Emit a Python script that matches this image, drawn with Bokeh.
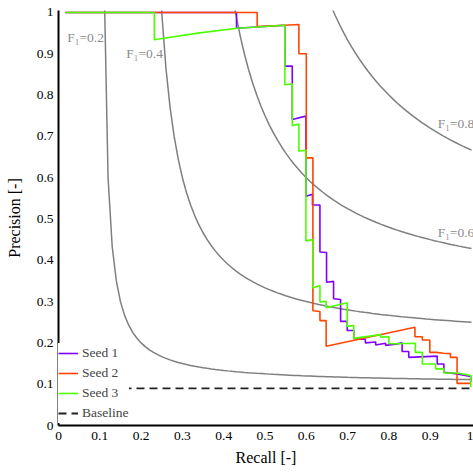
from bokeh.plotting import figure
from bokeh.models import Range1d, FixedTicker, Legend, LegendItem
from bokeh.embed import file_html
from bokeh.resources import INLINE
from bokeh.core.properties import value
import numpy as np

# Precision-recall curves for three training seeds
seed1_recall = [0.017, 0.431, 0.431, 0.548, 0.548, 0.566, 0.566, 0.599, 0.599, 0.615, 0.615,
                0.633, 0.633, 0.649, 0.649, 0.666, 0.666, 0.683, 0.683, 0.699, 0.699, 0.715,
                0.715, 0.731, 0.743, 0.743, 0.768, 0.768, 0.792, 0.792, 0.816, 0.832, 0.832,
                0.848, 0.848, 0.917, 0.917, 0.933, 0.933, 0.965, 0.998, 0.998]
seed1_precision = [1.0, 1.0, 0.962, 0.969, 0.870, 0.870, 0.741, 0.749, 0.555, 0.560, 0.534,
                   0.534, 0.420, 0.419, 0.347, 0.349, 0.307, 0.305, 0.252, 0.252, 0.230, 0.230,
                   0.211, 0.209, 0.209, 0.200, 0.202, 0.195, 0.199, 0.194, 0.197, 0.200, 0.179,
                   0.179, 0.165, 0.168, 0.149, 0.149, 0.129, 0.125, 0.119, 0.105]

seed2_recall = [0.017, 0.481, 0.481, 0.548, 0.582, 0.582, 0.600, 0.600, 0.616, 0.616, 0.633,
                0.633, 0.648, 0.648, 0.863, 0.863, 0.881, 0.881, 0.899, 0.899, 0.915, 0.932,
                0.949, 0.949, 0.965, 0.965, 0.998]
seed2_precision = [1.0, 1.0, 0.966, 0.969, 0.971, 0.900, 0.900, 0.648, 0.648, 0.278, 0.276,
                   0.254, 0.254, 0.192, 0.238, 0.215, 0.215, 0.207, 0.207, 0.177, 0.177, 0.175,
                   0.174, 0.165, 0.165, 0.102, 0.102]

seed3_recall = [0.017, 0.232, 0.232, 0.337, 0.433, 0.548, 0.548, 0.566, 0.566, 0.582, 0.582,
                0.599, 0.599, 0.616, 0.616, 0.633, 0.633, 0.648, 0.648, 0.699, 0.699, 0.715,
                0.715, 0.780, 0.780, 0.800, 0.800, 0.816, 0.864, 0.864, 0.881, 0.881, 0.913,
                0.913, 0.933, 0.933, 0.965, 0.998, 0.998]
seed3_precision = [1.0, 1.0, 0.934, 0.950, 0.962, 0.969, 0.825, 0.827, 0.726, 0.730, 0.664,
                   0.667, 0.447, 0.450, 0.333, 0.339, 0.299, 0.301, 0.285, 0.297, 0.240, 0.242,
                   0.211, 0.220, 0.214, 0.215, 0.198, 0.198, 0.199, 0.177, 0.177, 0.149, 0.149,
                   0.137, 0.137, 0.127, 0.127, 0.121, 0.093]

baseline_precision = 0.090

f1_levels = [0.2, 0.4, 0.6, 0.8]
f1_labels = ["F\u2081=0.2", "F\u2081=0.4", "F\u2081=0.6", "F\u2081=0.8"]
f1_label_x = [0.021, 0.164, 0.918, 0.918]
f1_label_y = [0.939, 0.901, 0.467, 0.731]

tick_values = [0, 0.1, 0.2, 0.3, 0.4, 0.5, 0.6, 0.7, 0.8, 0.9, 1]
tick_labels = ["0", "0.1", "0.2", "0.3", "0.4", "0.5", "0.6", "0.7", "0.8", "0.9", "1"]

FONT = "Liberation Serif"
COL1 = "#8000ff"
COL2 = "#ff4500"
COL3 = "#4cff00"

p = figure(width=473, height=472, output_backend="svg", toolbar_location=None,
           x_range=Range1d(0, 1.0048), y_range=Range1d(0, 1.0048),
           min_border_left=58, min_border_right=0, min_border_top=10, min_border_bottom=47)
p.outline_line_color = None
p.grid.visible = False
p.background_fill_color = "white"

# iso-F1 reference curves: P = F*R / (2R - F)
r_grid = np.round(np.arange(0.01, 1.0001, 0.01), 4)
for f in f1_levels:
    mask = 2 * r_grid - f > 1e-9
    rr = r_grid[mask]
    pp = f * rr / (2 * rr - f)
    keep = pp < 5
    p.line(rr[keep], pp[keep], line_color="#7f7f7f", line_width=1.5)

p.text(x=f1_label_x, y=f1_label_y, text=f1_labels, text_font=value(FONT),
       text_font_size="13.5px", text_color="#8c8c8c", text_baseline="middle", text_align="left")

base = p.line([0, 1], [baseline_precision, baseline_precision], line_color="#222222",
              line_width=1.8, line_dash="8 5")
r1 = p.line(seed1_recall, seed1_precision, line_color=COL1, line_width=1.6)
r2 = p.line(seed2_recall, seed2_precision, line_color=COL2, line_width=1.6)
r3 = p.line(seed3_recall, seed3_precision, line_color=COL3, line_width=1.6)

legend = Legend(items=[LegendItem(label="Seed 1", renderers=[r1]),
                       LegendItem(label="Seed 2", renderers=[r2]),
                       LegendItem(label="Seed 3", renderers=[r3]),
                       LegendItem(label="Baseline", renderers=[base])],
                location=(0, 2), margin=0, padding=4, spacing=0,
                glyph_width=20, glyph_height=20, label_height=20, label_standoff=4,
                label_text_font=FONT, label_text_font_size="13.5px",
                background_fill_color="white", background_fill_alpha=1.0,
                border_line_color=None)
p.add_layout(legend)

for ax in (p.xaxis, p.yaxis):
    ax.ticker = FixedTicker(ticks=tick_values)
    ax.major_label_overrides = {v: s for v, s in zip(tick_values, tick_labels)}
    ax.minor_tick_line_color = None
    ax.major_tick_line_color = None
    ax.major_tick_in = 0
    ax.major_tick_out = 0
    ax.axis_line_color = "black"
    ax.axis_line_width = 2
    ax.major_label_text_font = FONT
    ax.major_label_text_font_size = "13.5px"
    ax.major_label_text_color = "black"
    ax.axis_label_text_font = FONT
    ax.axis_label_text_font_size = "16px"
    ax.axis_label_text_font_style = "normal"
    ax.axis_label_text_color = "black"

p.xaxis.axis_label = "Recall [-]"
p.yaxis.axis_label = "Precision [-]"
p.xaxis.major_label_standoff = 6
p.yaxis.major_label_standoff = 5
p.xaxis.axis_label_standoff = 6
p.yaxis.axis_label_standoff = 11

open("out.html", "w").write(file_html(p, INLINE))
